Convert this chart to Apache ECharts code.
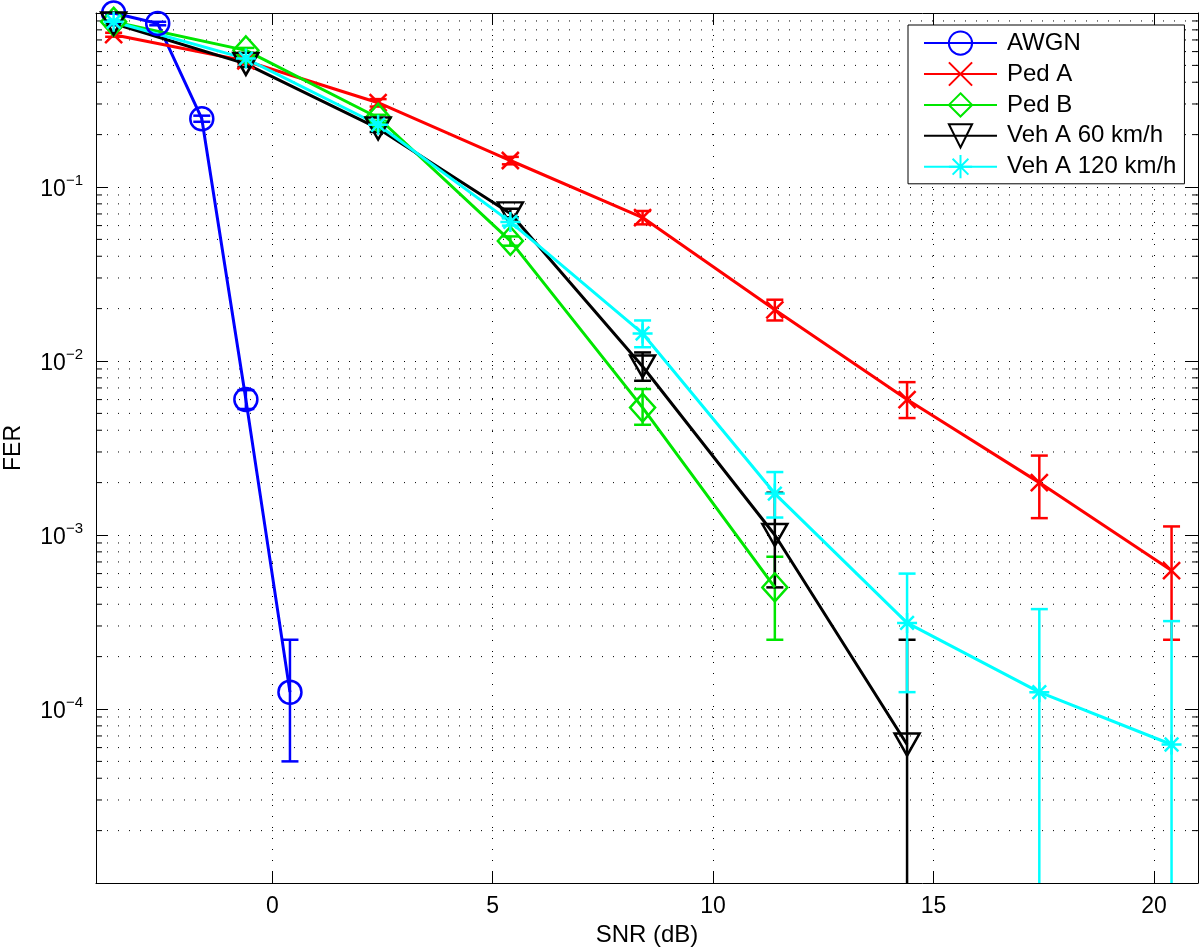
<!DOCTYPE html>
<html><head><meta charset="utf-8">
<script src="https://cdn.jsdelivr.net/npm/echarts@6/dist/echarts.min.js"></script>
<style>html,body{margin:0;padding:0;background:#fff}#c{width:1200px;height:948px}</style>
</head><body><div id="c"></div>
<script>
// ---- axis settings ----
const X_MIN = -4, X_MAX = 21, Y_MIN = 1e-5, Y_MAX = 1;
const xTickLabels = [0, 5, 10, 15, 20];
const yTickLabelExps = [-1, -2, -3, -4];

// ---- data (FER vs SNR) ----
const seriesNames = ['AWGN', 'Ped A', 'Ped B', 'Veh A 60 km/h', 'Veh A 120 km/h'];

const awgnX  = [-3.6, -2.6, -1.6, -0.6, 0.4];
const awgnY  = [1.0, 0.87, 0.247, 0.006, 1.25e-4];
const awgnLo = [0.99, 0.85, 0.237, 0.0053, 5e-5];
const awgnHi = [1.0, 0.89, 0.257, 0.0068, 2.5e-4];

const pedAX  = [-3.6, -0.6, 2.4, 5.4, 8.4, 11.4, 14.4, 17.4, 20.4];
const pedAY  = [0.75, 0.53, 0.305, 0.142, 0.0667, 0.0197, 0.006, 0.002, 6.25e-4];
const pedALo = [0.73, 0.51, 0.29, 0.135, 0.061, 0.0171, 0.0047, 0.00125, 2.5e-4];
const pedAHi = [0.77, 0.55, 0.32, 0.149, 0.0728, 0.0225, 0.00756, 0.00286, 1.12e-3];

const pedBX  = [-3.6, -0.6, 2.4, 5.4, 8.4, 11.4];
const pedBY  = [0.89, 0.61, 0.25, 0.049, 0.0054, 5e-4];
const pedBLo = [0.87, 0.59, 0.24, 0.046, 0.0043, 2.5e-4];
const pedBHi = [0.91, 0.63, 0.26, 0.052, 0.0069, 7.5e-4];

const veh60X  = [-3.6, -0.6, 2.4, 5.4, 8.4, 11.4, 14.4];
const veh60Y  = [0.87, 0.51, 0.217, 0.0705, 0.0093, 1.0e-3, 6.25e-5];
const veh60Lo = [0.85, 0.49, 0.207, 0.067, 0.0077, 5e-4, null];
const veh60Hi = [0.89, 0.53, 0.227, 0.075, 0.0112, 1.75e-3, 2.5e-4];

const veh120X  = [-3.6, -0.6, 2.4, 5.4, 8.4, 11.4, 14.4, 17.4, 20.4];
const veh120Y  = [0.89, 0.547, 0.228, 0.063, 0.0144, 1.73e-3, 3.125e-4, 1.25e-4, 6.25e-5];
const veh120Lo = [0.87, 0.53, 0.22, 0.060, 0.012, 1.26e-3, 1.25e-4, null, null];
const veh120Hi = [0.91, 0.565, 0.236, 0.066, 0.0171, 2.3e-3, 6e-4, 3.75e-4, 3.2e-4];

// ---- styles ----
const FONT = '"Liberation Sans", Helvetica, Arial, sans-serif';
const colors = ['#0000ff', '#ff0000', '#00e600', '#000000', '#00ffff'];
const symbols = [
  'circle',
  'path://M0,0L10,10M10,0L0,10',
  'diamond',
  'path://M0,0L10,0L5,9Z',
  'path://M5,0L5,10M0,5L10,5M1.6,1.6L8.4,8.4M8.4,1.6L1.6,8.4'
];
const symbolSizes = [23, 17, [25, 28], [25, 22], 20];

const allX  = [awgnX, pedAX, pedBX, veh60X, veh120X];
const allY  = [awgnY, pedAY, pedBY, veh60Y, veh120Y];
const allLo = [awgnLo, pedALo, pedBLo, veh60Lo, veh120Lo];
const allHi = [awgnHi, pedAHi, pedBHi, veh60Hi, veh120Hi];

// minor log grid values (2..9 x 10^n)
const minorVals = [];
for (let e = -5; e < 0; e++) for (let k = 2; k <= 9; k++) minorVals.push(k * Math.pow(10, e));

const chart = echarts.init(document.getElementById('c'), null, {renderer: 'canvas'});

const series = [];
series.push({
  type: 'custom', name: 'minorGrid', silent: true, z: 1,
  data: minorVals.map(v => [X_MIN, v]),
  renderItem: (params, api) => {
    const v = api.value(1);
    const pL = api.coord([X_MIN, v]), pR = api.coord([X_MAX, v]);
    return {type: 'group', children: [
      {type: 'line', shape: {x1: pL[0], y1: pL[1], x2: pR[0], y2: pR[1]}, style: {stroke: '#000', lineWidth: 1, lineDash: [1, 10]}},
      {type: 'line', shape: {x1: pL[0], y1: pL[1], x2: pL[0] + 6, y2: pL[1]}, style: {stroke: '#000', lineWidth: 1}},
      {type: 'line', shape: {x1: pR[0] - 6, y1: pR[1], x2: pR[0], y2: pR[1]}, style: {stroke: '#000', lineWidth: 1}}
    ]};
  }
});

for (let i = 0; i < 5; i++) {
  series.push({
    type: 'line', name: seriesNames[i], z: 3,
    data: allX[i].map((x, j) => [x, allY[i][j]]),
    symbol: symbols[i], symbolSize: symbolSizes[i], showAllSymbol: true,
    lineStyle: {color: colors[i], width: 3},
    itemStyle: {color: 'rgba(0,0,0,0)', borderColor: colors[i], borderWidth: 2.5},
    emphasis: {disabled: true}
  });
  series.push({
    type: 'custom', name: seriesNames[i] + ' err', silent: true, z: 3,
    data: allX[i].map((x, j) => [x, allLo[i][j] == null ? Y_MIN : allLo[i][j], allHi[i][j], allLo[i][j] == null ? 0 : 1]),
    renderItem: ((col) => (params, api) => {
      const x = api.value(0), lo = api.value(1), hi = api.value(2), capLo = api.value(3);
      const pLo = api.coord([x, lo]), pHi = api.coord([x, hi]);
      const w = 8.5;
      const st = {stroke: col, lineWidth: 2.5};
      const ch = [
        {type: 'line', shape: {x1: pLo[0], y1: pLo[1], x2: pHi[0], y2: pHi[1]}, style: st},
        {type: 'line', shape: {x1: pHi[0] - w, y1: pHi[1], x2: pHi[0] + w, y2: pHi[1]}, style: st}
      ];
      if (capLo) ch.push({type: 'line', shape: {x1: pLo[0] - w, y1: pLo[1], x2: pLo[0] + w, y2: pLo[1]}, style: st});
      return {type: 'group', children: ch};
    })(colors[i])
  });
}

const dotted = {show: true, lineStyle: {color: '#000', width: 1, type: [1, 10]}};

chart.setOption({
  animation: false,
  backgroundColor: '#fff',
  textStyle: {fontFamily: FONT},
  grid: {left: 96, top: 13, right: 2, bottom: 65, show: false, containLabel: false, outerBoundsMode: 'none'},
  legend: {
    data: seriesNames, orient: 'vertical', left: 908, top: 25,
    itemWidth: 73, itemHeight: 29, itemGap: 5.7,
    padding: [5.5, 8, 4.5, 15],
    backgroundColor: '#fff', borderColor: '#000', borderWidth: 1,
    textStyle: {fontFamily: FONT, fontSize: 24, color: '#000', padding: [0, 0, 0, 5]},
    selectedMode: false
  },
  xAxis: [{
    type: 'value', min: X_MIN, max: X_MAX, position: 'bottom',
    name: 'SNR (dB)', nameLocation: 'middle', nameGap: 40,
    nameTextStyle: {fontFamily: FONT, fontSize: 24, color: '#000'},
    axisLine: {show: true, onZero: false, lineStyle: {color: '#000', width: 1}},
    axisTick: {show: true, inside: true, length: 12, lineStyle: {color: '#000'}},
    axisLabel: {fontFamily: FONT, fontSize: 23, color: '#000', margin: 12,
      formatter: v => (xTickLabels.indexOf(v) >= 0 ? String(v) : '')},
    splitLine: dotted
  }, {
    type: 'value', min: X_MIN, max: X_MAX, position: 'top',
    axisLine: {show: true, onZero: false, lineStyle: {color: '#000', width: 1}},
    axisTick: {show: true, inside: true, length: 12, lineStyle: {color: '#000'}},
    axisLabel: {show: false}, splitLine: {show: false}
  }],
  yAxis: [{
    type: 'log', logBase: 10, min: Y_MIN, max: Y_MAX, position: 'left',
    name: 'FER', nameLocation: 'middle', nameGap: 71, nameRotate: 90,
    nameTextStyle: {fontFamily: FONT, fontSize: 23, color: '#000'},
    axisLine: {show: true, onZero: false, lineStyle: {color: '#000', width: 1}},
    axisTick: {show: true, inside: true, length: 12, lineStyle: {color: '#000'}},
    axisLabel: {margin: 13, color: '#000',
      formatter: v => {
        const e = Math.round(Math.log10(v));
        if (yTickLabelExps.indexOf(e) < 0) return '';
        return '{b|10}{s|\u2212' + (-e) + '}';
      },
      rich: {
        b: {fontFamily: FONT, fontSize: 23, color: '#000', lineHeight: 28, verticalAlign: 'bottom'},
        s: {fontFamily: FONT, fontSize: 15, color: '#000', lineHeight: 15, verticalAlign: 'top'}
      }
    },
    splitLine: dotted
  }, {
    type: 'log', logBase: 10, min: Y_MIN, max: Y_MAX, position: 'right',
    axisLine: {show: true, onZero: false, lineStyle: {color: '#000', width: 1}},
    axisTick: {show: true, inside: true, length: 12, lineStyle: {color: '#000'}},
    axisLabel: {show: false}, splitLine: {show: false}
  }],
  series: series
});
</script></body></html>
